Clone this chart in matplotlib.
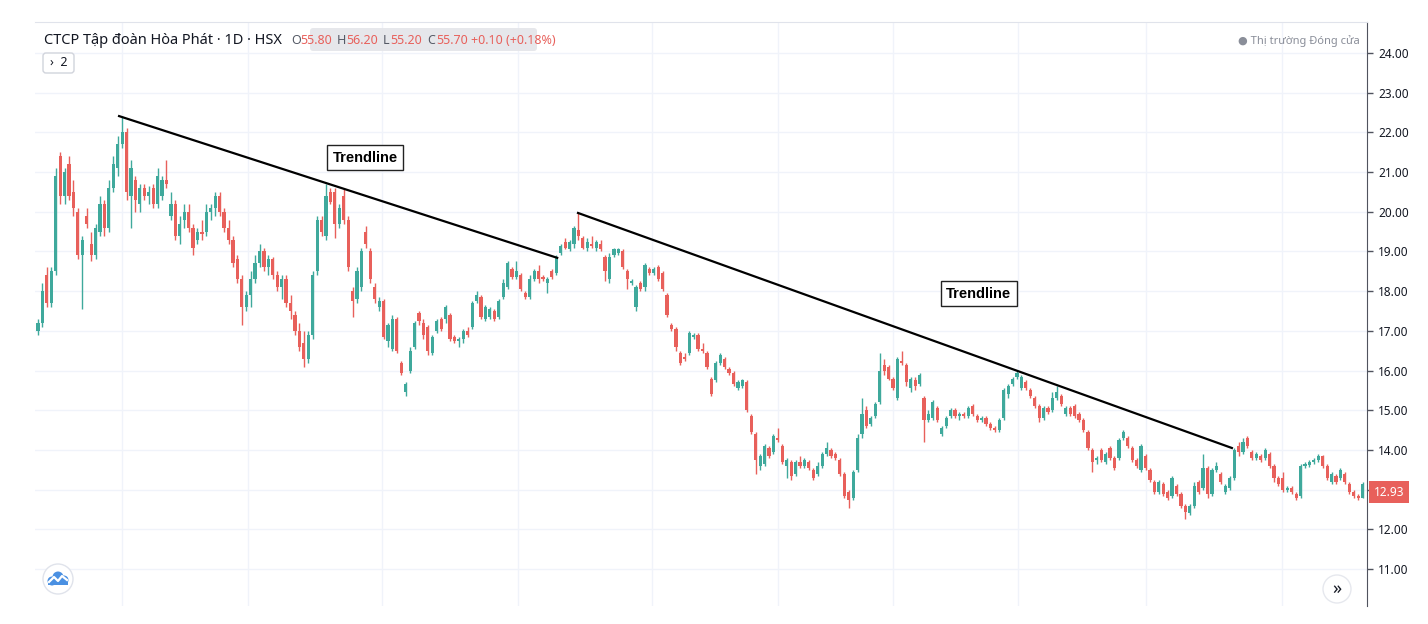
import numpy as np
import matplotlib
matplotlib.use('Agg')
import matplotlib.pyplot as plt
from matplotlib.patches import FancyBboxPatch, Circle, Rectangle

plt.rcParams['font.family'] = ['Noto Sans', 'DejaVu Sans']

# daily candles (price in thousand VND)
opens = [
    17.0, 17.2, 18.4, 17.7, 18.5, 21.4, 20.4, 21.2, 20.5, 20.0,
    18.9, 19.9, 19.2, 18.9, 19.5, 20.2, 19.6, 20.6, 21.1, 21.7,
    22.0, 20.4, 20.8, 20.2, 20.6, 20.4, 20.6, 20.2, 20.4, 20.8,
    19.9, 20.2, 19.4, 19.8, 20.0, 19.6, 19.3, 19.5, 19.5, 20.0,
    20.1, 20.4, 20.0, 19.6, 19.3, 18.8, 18.3, 17.6, 17.9, 18.3,
    18.7, 19.0, 18.6, 18.8, 18.4, 18.1, 18.3, 17.7, 17.4, 17.0,
    16.7, 16.3, 16.9, 18.5, 19.8, 19.4, 20.5, 20.5, 19.7, 20.4,
    19.8, 18.0, 17.8, 18.1, 19.5, 19.0, 18.1, 17.6, 17.75, 16.75,
    16.55, 17.3, 16.2, 15.45, 16.0, 16.6, 17.45, 17.2, 17.1, 16.45,
    17.0, 17.3, 17.3, 17.4, 16.85, 16.75, 16.8, 17.0, 17.1, 17.75,
    17.85, 17.3, 17.35, 17.5, 17.35, 17.85, 18.1, 18.55, 18.35, 18.4,
    17.95, 17.85, 18.3, 18.5, 18.35, 18.2, 18.5, 18.45, 18.95, 19.25,
    19.05, 19.2, 19.55, 19.35, 19.1, 19.2, 19.1, 19.2, 18.85, 18.3,
    18.9, 18.95, 19.0, 18.5, 18.2, 17.6, 18.2, 18.1, 18.55, 18.45,
    18.6, 18.45, 17.9, 17.15, 17.05, 16.45, 16.35, 16.45, 16.85, 16.9,
    16.55, 16.45, 15.8, 15.75, 16.2, 16.3, 16.05, 15.95, 15.55, 15.6,
    15.7, 14.85, 14.4, 13.6, 13.65, 14.05, 13.95, 14.3, 14.1, 13.6,
    13.7, 13.4, 13.7, 13.6, 13.7, 13.5, 13.4, 13.6, 13.9, 14.0,
    13.9, 13.75, 13.4, 12.95, 12.8, 13.5, 14.4, 15.0, 14.65, 14.85,
    15.2, 16.15, 16.1, 15.8, 15.3, 16.25, 16.15, 15.55, 15.75, 15.65,
    15.3, 14.75, 14.8, 15.05, 14.4, 14.6, 14.85, 15.0, 14.85, 14.9,
    14.85, 15.1, 14.85, 14.75, 14.8, 14.65, 14.55, 14.5, 14.8, 15.4,
    15.65, 15.85, 15.55, 15.7, 15.5, 15.3, 15.1, 14.8, 15.05, 15.0,
    15.3, 15.35, 14.9, 15.05, 15.1, 14.9, 14.75, 14.45, 14.0, 13.75,
    14.0, 13.7, 14.05, 13.8, 13.8, 14.3, 14.3, 14.05, 13.75, 13.5,
    13.85, 13.5, 13.2, 12.95, 13.15, 12.95, 12.85, 13.1, 12.9, 12.6,
    12.4, 12.6, 13.2, 13.05, 13.55, 12.9, 13.5, 13.4, 12.95, 13.05,
    13.3, 14.1, 13.95, 14.3, 13.95, 13.8, 13.85, 13.8, 13.9, 13.6,
    13.3, 13.3, 13.0, 13.05, 12.9, 12.85, 13.6, 13.62, 13.7, 13.75,
    13.85, 13.6, 13.2, 13.35, 13.3, 13.4, 13.15, 12.95, 12.85, 12.8,
]
highs = [
    17.3, 18.2, 18.6, 18.6, 21.1, 21.5, 21.1, 21.4, 20.8, 20.1,
    19.4, 20.1, 19.5, 19.7, 20.4, 20.3, 20.8, 21.4, 21.9, 22.4,
    22.1, 21.3, 20.9, 20.7, 20.7, 20.65, 20.7, 21.1, 20.9, 21.3,
    20.5, 20.3, 19.9, 20.2, 20.2, 19.7, 19.6, 19.8, 20.2, 20.2,
    20.5, 20.5, 20.1, 19.8, 19.4, 18.9, 18.4, 18.0, 18.5, 18.9,
    19.2, 19.1, 18.9, 18.85, 18.5, 18.4, 18.4, 17.9, 17.5, 17.2,
    17.0, 17.0, 18.5, 19.9, 19.9, 20.7, 20.6, 20.6, 20.2, 20.6,
    19.9, 18.1, 18.6, 19.1, 19.65, 19.1, 18.2, 17.85, 17.8, 17.2,
    17.4, 17.35, 16.25, 15.7, 16.6, 17.25, 17.5, 17.3, 17.15, 16.9,
    17.3, 17.35, 17.65, 17.45, 16.9, 16.85, 17.05, 17.1, 17.75, 18.0,
    17.9, 17.65, 17.6, 17.55, 17.8, 18.3, 18.75, 18.6, 18.75, 18.45,
    18.0, 18.4, 18.55, 18.65, 18.4, 18.35, 18.55, 18.9, 19.2, 19.35,
    19.3, 19.65, 19.97, 19.4, 19.35, 19.4, 19.3, 19.3, 18.9, 18.95,
    19.1, 19.1, 19.05, 18.55, 18.3, 18.15, 18.25, 18.7, 18.6, 18.6,
    18.65, 18.5, 17.95, 17.2, 17.1, 16.5, 16.45, 17.0, 16.95, 16.95,
    16.7, 16.5, 15.85, 16.25, 16.45, 16.35, 16.1, 16.0, 15.75, 15.8,
    15.75, 14.9, 14.45, 13.9, 14.15, 14.1, 14.4, 14.55, 14.15, 13.8,
    13.75, 13.75, 13.85, 13.8, 13.75, 13.55, 13.7, 13.95, 14.2, 14.05,
    13.95, 13.8, 13.45, 13.0, 13.5, 14.4, 15.3, 15.1, 14.85, 15.2,
    16.45, 16.3, 16.15, 15.85, 16.35, 16.5, 16.2, 15.85, 15.85, 15.95,
    15.35, 15.0, 15.25, 15.1, 14.6, 14.85, 15.05, 15.05, 14.95, 14.95,
    15.1, 15.15, 14.9, 14.85, 14.85, 14.7, 14.6, 14.8, 15.55, 15.65,
    15.85, 16.0, 15.9, 15.75, 15.55, 15.35, 15.15, 15.1, 15.1, 15.45,
    15.6, 15.4, 15.1, 15.1, 15.15, 14.95, 14.8, 14.5, 14.05, 13.85,
    14.05, 13.95, 14.1, 13.85, 14.3, 14.5, 14.35, 14.1, 13.8, 14.15,
    13.9, 13.55, 13.25, 13.25, 13.2, 13.0, 13.35, 13.15, 12.95, 12.65,
    12.65, 13.2, 13.25, 13.9, 13.6, 13.55, 13.7, 13.45, 13.15, 13.35,
    14.05, 14.2, 14.3, 14.35, 14.0, 13.95, 13.9, 14.05, 13.95, 13.65,
    13.35, 13.45, 13.1, 13.1, 12.95, 13.65, 13.7, 13.75, 13.8, 13.9,
    13.88, 13.65, 13.45, 13.4, 13.55, 13.45, 13.2, 13.0, 12.9, 13.2,
]
lows = [
    16.9, 17.1, 17.6, 17.6, 18.4, 20.2, 20.2, 20.3, 19.9, 18.8,
    17.55, 19.6, 18.75, 18.8, 19.4, 19.4, 19.5, 20.5, 20.9, 21.6,
    20.3, 19.6, 20.0, 20.0, 20.3, 20.2, 20.1, 20.1, 20.3, 20.6,
    19.8, 19.3, 19.2, 19.6, 19.5, 18.9, 19.2, 19.3, 19.4, 19.8,
    19.9, 19.9, 19.5, 19.2, 18.6, 18.2, 17.15, 17.5, 17.6, 18.2,
    18.6, 18.5, 18.4, 18.3, 18.0, 17.8, 17.6, 17.3, 16.9, 16.5,
    16.1, 16.2, 16.8, 18.4, 19.4, 19.3, 20.2, 19.35, 19.6, 19.7,
    18.5, 17.35, 17.7, 18.0, 19.1, 18.2, 17.7, 17.5, 16.8, 16.6,
    16.5, 16.45, 15.9, 15.35, 15.95, 16.55, 17.15, 16.8, 16.4, 16.4,
    16.95, 17.0, 17.2, 16.75, 16.7, 16.6, 16.7, 16.85, 17.05, 17.7,
    17.3, 17.25, 17.3, 17.25, 17.3, 17.8, 18.05, 18.3, 18.3, 18.0,
    17.8, 17.8, 18.25, 18.2, 18.25, 17.95, 18.3, 18.4, 18.9, 19.05,
    19.0, 19.1, 19.3, 19.05, 19.0, 19.1, 19.0, 19.0, 18.25, 18.2,
    18.85, 18.9, 18.55, 18.05, 18.15, 17.5, 18.0, 18.0, 18.4, 18.4,
    18.25, 18.0, 17.35, 17.0, 16.5, 16.15, 16.25, 16.4, 16.8, 16.5,
    16.45, 16.05, 15.35, 15.7, 16.15, 16.05, 15.9, 15.6, 15.5, 15.55,
    14.95, 14.4, 13.4, 13.5, 13.6, 13.8, 13.9, 14.2, 13.65, 13.3,
    13.25, 13.35, 13.55, 13.55, 13.5, 13.25, 13.35, 13.55, 13.85, 13.8,
    13.75, 13.35, 12.8, 12.55, 12.75, 13.45, 14.3, 14.55, 14.6, 14.8,
    15.15, 15.9, 15.75, 15.5, 15.25, 16.15, 15.6, 15.45, 15.5, 15.6,
    14.2, 14.7, 14.75, 14.7, 14.35, 14.55, 14.8, 14.8, 14.75, 14.8,
    14.8, 14.85, 14.7, 14.7, 14.6, 14.5, 14.45, 14.45, 14.75, 15.3,
    15.6, 15.8, 15.5, 15.5, 15.3, 15.05, 14.7, 14.75, 14.9, 14.95,
    15.25, 15.1, 14.85, 14.85, 14.8, 14.7, 14.45, 14.0, 13.45, 13.65,
    13.7, 13.65, 13.75, 13.5, 13.75, 14.25, 14.05, 13.7, 13.55, 13.45,
    13.5, 13.2, 12.9, 12.9, 12.85, 12.75, 12.8, 12.85, 12.55, 12.25,
    12.35, 12.55, 12.9, 13.0, 12.8, 12.85, 13.45, 13.15, 12.9, 13.0,
    13.25, 13.85, 13.9, 14.05, 13.75, 13.75, 13.7, 13.75, 13.55, 13.2,
    13.1, 12.95, 12.95, 12.9, 12.75, 12.8, 13.55, 13.58, 13.65, 13.7,
    13.55, 13.25, 13.15, 13.15, 13.25, 13.15, 12.9, 12.8, 12.75, 12.78,
]
closes = [
    17.2, 18.0, 17.7, 18.5, 20.9, 20.4, 21.0, 20.4, 20.1, 18.9,
    19.3, 19.7, 18.9, 19.6, 20.2, 19.6, 20.6, 21.2, 21.7, 22.0,
    20.5, 21.1, 20.3, 20.6, 20.4, 20.5, 20.2, 20.9, 20.8, 20.7,
    20.2, 19.4, 19.7, 20.0, 19.6, 19.1, 19.5, 19.45, 20.0, 20.1,
    20.4, 20.0, 19.6, 19.3, 18.7, 18.3, 17.6, 17.9, 18.3, 18.7,
    19.0, 18.6, 18.8, 18.4, 18.1, 18.3, 17.7, 17.5, 17.0, 16.6,
    16.3, 16.9, 18.4, 19.8, 19.5, 20.4, 20.25, 19.7, 20.1, 19.8,
    18.6, 17.75, 18.5, 19.0, 19.2, 18.3, 17.8, 17.75, 16.85, 17.15,
    17.3, 16.5, 15.95, 15.65, 16.5, 17.2, 17.25, 16.9, 16.5, 16.85,
    17.25, 17.05, 17.6, 16.8, 16.75, 16.8, 17.0, 16.9, 17.7, 17.9,
    17.35, 17.6, 17.55, 17.3, 17.75, 18.2, 18.7, 18.35, 18.5, 18.05,
    17.85, 18.3, 18.5, 18.3, 18.3, 18.3, 18.35, 18.85, 19.15, 19.1,
    19.25, 19.6, 19.4, 19.1, 19.25, 19.15, 19.25, 19.05, 18.5, 18.85,
    19.05, 19.05, 18.6, 18.3, 18.25, 18.1, 18.05, 18.65, 18.45, 18.55,
    18.3, 18.05, 17.4, 17.05, 16.6, 16.2, 16.3, 16.95, 16.9, 16.55,
    16.5, 16.1, 15.4, 16.2, 16.4, 16.1, 15.95, 15.65, 15.7, 15.75,
    15.0, 14.45, 13.75, 13.85, 14.1, 13.85, 14.35, 14.25, 13.7, 13.75,
    13.35, 13.7, 13.6, 13.75, 13.55, 13.3, 13.6, 13.9, 14.05, 13.85,
    13.8, 13.4, 12.85, 12.75, 13.45, 14.3, 14.9, 14.6, 14.8, 15.15,
    16.0, 16.0, 15.8, 15.55, 16.3, 16.2, 15.7, 15.8, 15.6, 15.9,
    14.75, 14.9, 15.2, 14.75, 14.55, 14.8, 15.0, 14.85, 14.9, 14.85,
    15.05, 14.9, 14.75, 14.8, 14.65, 14.55, 14.5, 14.75, 15.5, 15.6,
    15.8, 15.95, 15.85, 15.55, 15.35, 15.1, 14.8, 15.05, 14.95, 15.3,
    15.45, 15.15, 15.05, 14.9, 14.85, 14.75, 14.5, 14.05, 13.7, 13.8,
    13.75, 13.9, 13.8, 13.55, 14.25, 14.45, 14.1, 13.75, 13.6, 14.1,
    13.55, 13.25, 12.95, 13.2, 12.9, 12.8, 13.3, 12.9, 12.6, 12.45,
    12.6, 13.1, 12.95, 13.55, 12.9, 13.5, 13.6, 13.2, 13.1, 13.3,
    14.0, 13.95, 14.2, 14.1, 13.8, 13.9, 13.75, 14.0, 13.6, 13.3,
    13.15, 13.0, 13.05, 12.95, 12.8, 13.6, 13.65, 13.7, 13.75, 13.85,
    13.6, 13.3, 13.4, 13.2, 13.5, 13.2, 12.95, 12.85, 12.8, 13.15,
]

# trendlines drawn on the chart: (bar index, price) at both ends
trend1_x = [18.3, 117.2]
trend1_y = [22.41, 18.84]
trend2_x = [121.9, 269.5]
trend2_y = [19.97, 14.05]
label_pos = [(73.8, 21.36), (212.4, 17.93)]

price_ticks = list(range(11, 25))
month_lines = [19, 47.4, 77.7, 108.4, 138.6, 167.0, 193.0, 221.2, 250.1, 280.8]
last_price = 12.93

UP = '#3fa99c'
DOWN = '#e8605b'
W, H = 1428, 624

fig = plt.figure(figsize=(W / 100, H / 100), dpi=100)
ax = fig.add_axes([35 / W, 18 / H, (1367 - 35) / W, (606 - 22) / H])

o = np.array(opens)
h = np.array(highs)
l = np.array(lows)
c = np.array(closes)
idx = np.arange(len(c))
cols = np.where(c >= o, UP, DOWN)

ax.vlines(idx, l, h, colors=cols, lw=1.0, zorder=3)
ax.bar(idx, np.maximum(np.abs(c - o), 0.04), bottom=np.minimum(o, c),
       width=0.72, color=cols, linewidth=0, zorder=3)

ax.plot(trend1_x, trend1_y, color='black', lw=1.6, zorder=5)
ax.plot(trend2_x, trend2_y, color='black', lw=1.6, zorder=5)
for px, py in label_pos:
    ax.text(px, py, 'Trendline', ha='center', va='center', fontsize=10.5,
            fontweight='bold', family=['Liberation Sans', 'DejaVu Sans'], zorder=6,
            bbox=dict(boxstyle='square,pad=0.38', fc='white', ec='#222222', lw=1))

ax.set_xlim(-0.68, 300.0)
ax.set_ylim(10.07, 24.78)
ax.set_yticks(price_ticks)
# the 13.00 label sits under the last-price badge, so it is not shown
ax.set_yticklabels(['' if v == 13 else f'{v:.2f}' for v in price_ticks])
ax.set_xticks(month_lines)
ax.set_xticklabels([])
ax.yaxis.tick_right()
ax.tick_params(axis='y', length=4, width=1, color='#50535e', labelsize=8.5,
               labelcolor='#131722', pad=4)
ax.tick_params(axis='x', length=0)
ax.grid(True, color='#f0f3fa', lw=1, zorder=0)
for s in ['left', 'bottom']:
    ax.spines[s].set_visible(False)
ax.spines['top'].set_color('#e0e3eb')
ax.spines['right'].set_color('#50535e')

ax.annotate(f'{last_price:.2f}', xy=(1, last_price), xycoords=('axes fraction', 'data'),
            xytext=(5, 0), textcoords='offset points', ha='left', va='center',
            color='white', fontsize=8.5,
            bbox=dict(boxstyle='square,pad=0.38', fc=DOWN, ec='none'))

# overlay in pixel units for the header and the round buttons
deco = fig.add_axes([0, 0, 1, 1], facecolor='none')
deco.set_xlim(0, W)
deco.set_ylim(H, 0)
deco.axis('off')

deco.add_patch(FancyBboxPatch((310, 28), 227, 23, boxstyle='round,pad=0,rounding_size=3',
                              fc='#e4e5e9', ec='none', alpha=0.9))
deco.text(44, 41, 'CTCP Tập đoàn Hòa Phát · 1D · HSX', fontsize=10.5,
          color='#131722', va='center')
parts = [(291, 'O', '#555a66'), (300, '55.80', DOWN), (337, 'H', '#555a66'),
         (346, '56.20', DOWN), (383, 'L', '#555a66'), (390, '55.20', DOWN),
         (427, 'C', '#555a66'), (436, '55.70', DOWN), (471, '+0.10 (+0.18%)', DOWN)]
for px, txt, col in parts:
    deco.text(px, 41, txt, fontsize=9, color=col, va='center')

deco.add_patch(FancyBboxPatch((43, 53), 31, 20, boxstyle='round,pad=0,rounding_size=3',
                              fc='white', ec='#d1d4dc', lw=1))
deco.text(58.5, 63, '›  2', fontsize=9, color='#131722', ha='center', va='center')

deco.text(1360, 41, '● Thị trường Đóng cửa', fontsize=8, color='#8a8e99',
          ha='right', va='center')

# logo: blue cloud with a white zigzag
deco.add_patch(Circle((58, 579), 15, fc='white', ec='#e0e3eb', lw=1))
for cx, cy, r in [(52, 581, 4.5), (58, 577, 5.5), (64, 580, 4.5)]:
    deco.add_patch(Circle((cx, cy), r, fc='#4a90e2', ec='none'))
deco.add_patch(Rectangle((48, 580), 20, 5, fc='#4a90e2', ec='none'))
deco.plot([49, 54, 58, 62, 67], [582, 577, 581, 576, 580], color='white', lw=1.6)

deco.add_patch(Circle((1337, 589), 14, fc='white', ec='#e6e8ee', lw=1))
deco.text(1337, 589, '»', fontsize=13, color='#131722', ha='center', va='center')

fig.savefig('out.png', dpi=100)
